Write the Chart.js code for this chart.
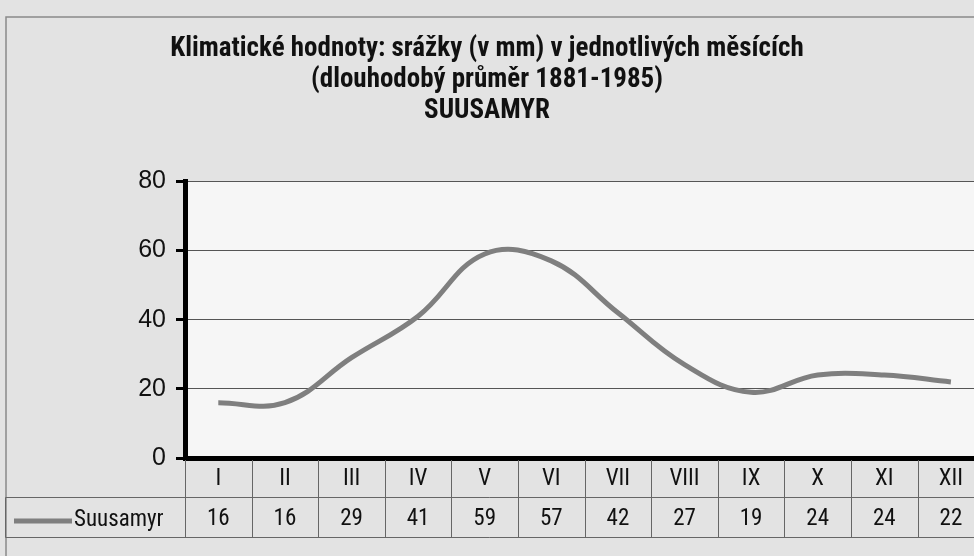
<!DOCTYPE html>
<html>
<head>
<meta charset="utf-8">
<script src="https://cdn.jsdelivr.net/npm/chart.js@4"></script>
<style>
  html, body { margin: 0; padding: 0; overflow: hidden; background: #e2e2e2; }
  #wrap { width: 974px; height: 556px; position: relative; }
</style>
</head>
<body>
<div id="wrap"><canvas id="srazky" width="974" height="556"></canvas></div>
<script>
// data z grafu
const mesice = ['I', 'II', 'III', 'IV', 'V', 'VI', 'VII', 'VIII', 'IX', 'X', 'XI', 'XII'];
const srazky = [16, 16, 29, 41, 59, 57, 42, 27, 19, 24, 24, 22];
const yTicks = [0, 20, 40, 60, 80];
const nazevRady = 'Suusamyr';
const titulek = [
    'Klimatické hodnoty: srážky (v mm) v jednotlivých měsících',
    '(dlouhodobý průměr 1881-1985)',
    'SUUSAMYR'
];

const narrow = "'Liberation Sans Narrow', 'Arial Narrow', 'Roboto Condensed', 'Liberation Sans', Arial, sans-serif";
const sans = "'Liberation Sans', Arial, sans-serif";

// pozadi + bila plocha grafu
const pozadi = {
    id: 'pozadi',
    beforeDraw(chart) {
        const { ctx, chartArea: a } = chart;
        ctx.save();
        ctx.fillStyle = '#e3e3e3';
        ctx.fillRect(0, 0, chart.width, chart.height);
        ctx.fillStyle = '#f6f6f6';
        ctx.fillRect(a.left, a.top, a.right - a.left, a.bottom - a.top);
        ctx.strokeStyle = '#8a8a8a';
        ctx.lineWidth = 1.5;
        ctx.strokeRect(6, 17, chart.width + 10, chart.height + 10);
        ctx.restore();
    }
};

// tabulka s hodnotami pod grafem
const tabulka = {
    id: 'tabulka',
    afterDraw(chart) {
        const { ctx, chartArea: a } = chart;
        const x = chart.scales.x;
        const top = a.bottom + 2, mid = 497, bottom = 537;
        ctx.save();
        ctx.strokeStyle = '#666';
        ctx.lineWidth = 1;
        for (let i = 0; i <= mesice.length; i++) {
            const px = Math.round(x.getPixelForValue(i - 0.5)) + 0.5;
            ctx.beginPath();
            ctx.moveTo(px, top);
            ctx.lineTo(px, bottom);
            ctx.stroke();
        }
        ctx.beginPath();
        ctx.moveTo(5.5, mid + 0.5); ctx.lineTo(chart.width, mid + 0.5);
        ctx.moveTo(5.5, bottom + 0.5); ctx.lineTo(chart.width, bottom + 0.5);
        ctx.moveTo(5.5, mid + 0.5); ctx.lineTo(5.5, bottom + 0.5);
        ctx.stroke();

        ctx.fillStyle = '#111';
        ctx.textAlign = 'center';
        ctx.textBaseline = 'middle';
        ctx.font = '23px ' + narrow;
        mesice.forEach((m, i) => {
            const px = x.getPixelForValue(i);
            ctx.fillText(m, px, (top + mid) / 2 + 1);
            ctx.fillText(String(srazky[i]), px, (mid + bottom) / 2 + 2);
        });

        // legenda
        ctx.strokeStyle = '#7f7f7f';
        ctx.lineWidth = 5;
        ctx.beginPath();
        ctx.moveTo(14, 521); ctx.lineTo(72, 521);
        ctx.stroke();
        ctx.textAlign = 'left';
        ctx.fillText(nazevRady, 74, 520);
        ctx.restore();
    }
};

const ctx = document.getElementById('srazky').getContext('2d');
const graf = new Chart(ctx, {
    type: 'line',
    data: {
        datasets: [{
            label: nazevRady,
            data: srazky.map((v, i) => ({ x: i, y: v })),
            borderColor: '#7f7f7f',
            borderWidth: 5,
            pointRadius: 0,
            tension: 0.4,
            fill: false
        }]
    },
    options: {
        responsive: false,
        animation: false,
        layout: { padding: { left: 0, right: 0, top: 0, bottom: 0 } },
        plugins: {
            legend: { display: false },
            tooltip: { enabled: false },
            title: {
                display: true,
                text: titulek,
                color: '#111',
                font: { family: narrow, size: 27, weight: 'bold', lineHeight: 1.14 },
                padding: { top: 34, bottom: 55 }
            }
        },
        scales: {
            x: {
                type: 'linear',
                min: -0.5,
                max: -0.5 + (974 - 185) / 66.6,
                ticks: { display: false },
                grid: { display: false },
                border: { display: true, color: '#000', width: 5 },
                afterFit(s) { s.height = 556 - 458; }
            },
            y: {
                min: 0,
                max: 80,
                afterBuildTicks(s) { s.ticks = yTicks.map(v => ({ value: v })); },
                ticks: {
                    color: '#111',
                    padding: 10,
                    font: { family: sans, size: 25 }
                },
                grid: {
                    color: (c) => c.tick && c.tick.value === 0 ? 'rgba(0,0,0,0)' : '#555',
                    lineWidth: 1,
                    tickLength: 9,
                    tickColor: '#000',
                    tickWidth: 3
                },
                border: { display: true, color: '#000', width: 5 },
                afterFit(s) { s.width = 185; }
            }
        }
    },
    plugins: [pozadi, tabulka]
});
</script>
</body>
</html>
